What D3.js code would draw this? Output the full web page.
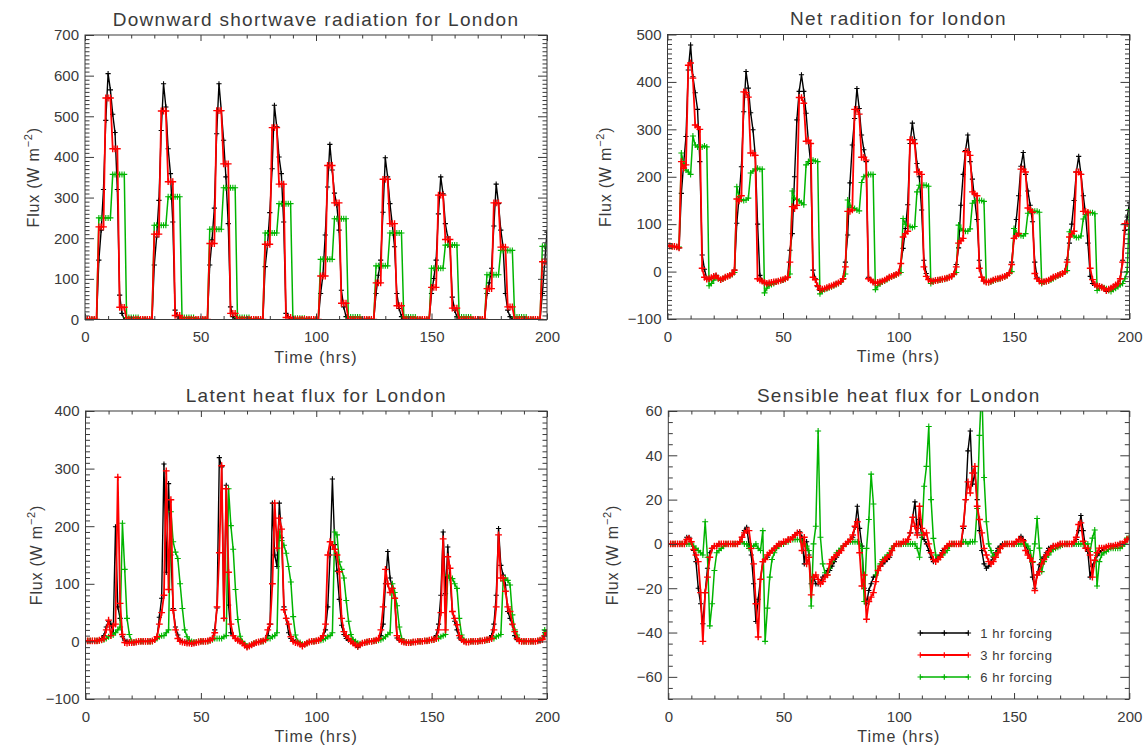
<!DOCTYPE html>
<html><head><meta charset="utf-8">
<script src="https://cdn.jsdelivr.net/npm/d3@7"></script>
<style>
body{margin:0;background:#fff}
svg text{font-family:"Liberation Sans",Arial,sans-serif;fill:#3a3a3a}
</style>
</head><body>
<svg id="c" width="1147" height="749"></svg>
<script>
// ---------- DATA (hourly, hours 0..200) ----------
const seriesNames = ["1 hr forcing","3 hr forcing","6 hr forcing"];
const xTicks = [0,50,100,150,200];

// Downward shortwave radiation
const sw1 = [
0,0,0,0,0,0,146,220,320,490,605,565,505,460,320,60,15,0,0,0,0,0,0,0,
0,0,0,0,0,0,134,203,293,465,580,523,420,359,240,23,7,0,0,0,0,0,0,0,
0,0,0,0,0,0,134,196,274,457,580,514,441,351,236,31,7,0,0,0,0,0,0,0,
0,0,0,0,0,0,130,183,263,371,527,474,400,359,240,15,7,0,0,0,0,0,0,0,
0,0,0,0,0,0,64,109,208,326,431,368,311,282,220,72,31,7,0,0,0,0,0,0,
0,0,0,0,0,0,64,109,146,264,398,351,285,236,179,64,27,7,0,0,0,0,0,0,
0,0,0,0,0,0,64,101,146,260,351,309,236,203,179,55,23,7,0,0,0,0,0,0,
0,0,0,0,0,0,64,90,126,230,333,285,220,179,64,23,7,0,0,0,0,0,0,0,
0,0,0,0,0,0,64,140,215];
const sw3 = [
0,0,0,0,0,0,228,228,228,545,545,545,420,420,420,30,30,30,0,0,0,0,0,0,
0,0,0,0,0,0,210,210,210,513,513,513,339,339,339,10,10,10,0,0,0,0,0,0,
0,0,0,0,0,0,187,187,187,514,514,514,383,383,383,15,15,15,0,0,0,0,0,0,
0,0,0,0,0,0,185,185,185,472,472,472,333,333,333,5,5,5,0,0,0,0,0,0,
0,0,0,0,0,0,107,107,107,379,379,379,287,287,287,40,40,40,0,0,0,0,0,0,
0,0,0,0,0,0,90,90,90,345,345,345,236,236,236,34,34,34,0,0,0,0,0,0,
0,0,0,0,0,0,79,79,79,306,306,306,197,197,197,28,28,28,0,0,0,0,0,0,
0,0,0,0,0,0,76,76,76,287,287,287,178,178,178,31,31,31,0,0,0,0,0,0,
0,0,0,0,0,0,142,142,142];
const sw6 = [
0,0,0,0,0,0,250,250,250,250,250,250,357,357,357,357,357,357,5,5,5,5,5,5,
0,0,0,0,0,0,232,232,232,232,232,232,302,302,302,302,302,302,5,5,5,5,5,5,
0,0,0,0,0,0,222,222,222,222,222,222,324,324,324,324,324,324,5,5,5,5,5,5,
0,0,0,0,0,0,213,213,213,213,213,213,285,285,285,285,285,285,3,3,3,3,3,3,
0,0,0,0,0,0,148,148,148,148,148,148,248,248,248,248,248,248,6,6,6,6,6,6,
0,0,0,0,0,0,132,132,132,132,132,132,213,213,213,213,213,213,6,6,6,6,6,6,
0,0,0,0,0,0,126,126,126,126,126,126,183,183,183,183,183,183,6,6,6,6,6,6,
0,0,0,0,0,0,110,110,110,110,110,110,170,170,170,170,170,170,6,6,6,6,6,6,
0,0,0,0,0,0,180,180,180];

// Net radiation
const nr1 = [
55,54,53,53,52,50,165,228,285,425,478,411,377,342,232,35,5,-15,-16,-14,-10,-8,-14,-18,
-15,-12,-10,-8,-5,3,102,158,221,337,422,387,335,299,245,100,-8,-20,-24,-26,-25,-24,-23,-22,
-20,-19,-18,-15,-12,45,80,200,320,380,415,380,334,274,228,3,-15,-32,-40,-38,-36,-35,-33,-31,
-28,-26,-24,-22,-15,20,77,187,267,323,386,344,288,257,232,-12,-18,-22,-25,-24,-22,-20,-18,-15,
-12,-10,-8,-6,-3,17,49,91,141,270,313,278,228,200,130,24,-4,-15,-20,-20,-18,-18,-17,-16,
-15,-14,-12,-10,-5,15,50,140,205,255,288,232,195,150,110,24,-12,-20,-22,-22,-20,-18,-16,-15,
-14,-12,-10,-8,-3,20,70,110,160,222,251,205,170,140,105,20,-12,-20,-22,-21,-20,-18,-15,-12,
-10,-8,-6,-4,0,25,60,100,150,210,243,205,160,120,60,-10,-25,-28,-30,-30,-32,-35,-42,-38,
-35,-32,-28,-25,-15,24,87,115,145];
const nr3 = [
55,54,53,53,52,50,232,218,225,435,440,408,309,305,300,7,-12,-16,-15,-13,-10,-9,-14,-17,
-15,-12,-10,-8,-5,3,153,149,160,379,378,368,250,250,245,-15,-18,-20,-23,-25,-24,-23,-22,-21,
-20,-18,-17,-15,-12,20,137,133,140,367,367,355,275,277,270,-12,-17,-30,-38,-37,-36,-34,-32,-30,
-28,-26,-24,-21,-15,10,127,127,130,342,342,332,241,241,235,-15,-18,-22,-24,-23,-22,-20,-18,-15,
-12,-10,-8,-6,-3,17,73,80,85,278,278,270,210,210,205,10,-10,-17,-20,-20,-19,-18,-17,-16,
-15,-14,-12,-10,-5,10,60,65,70,253,253,245,168,164,160,7,-12,-20,-22,-22,-20,-18,-16,-15,
-14,-12,-10,-8,-3,15,70,75,80,216,216,210,134,131,125,-4,-15,-20,-22,-21,-20,-18,-15,-12,
-10,-8,-6,-4,0,20,73,80,85,210,210,205,127,127,125,7,-17,-27,-30,-31,-33,-36,-40,-37,
-35,-32,-28,-25,-15,20,101,101,100];
const nr6 = [
55,54,53,53,52,52,250,228,214,210,205,286,267,263,263,263,265,263,-30,-25,-18,-12,-15,-18,
-15,-13,-10,-8,-6,-2,179,158,152,150,151,155,208,212,216,218,216,216,-45,-35,-30,-27,-25,-22,
-20,-19,-18,-16,-13,-5,170,155,152,149,145,141,225,232,235,235,233,232,-47,-42,-38,-36,-34,-32,
-30,-27,-25,-22,-16,-5,151,140,135,133,130,128,188,200,203,205,205,205,-38,-30,-26,-22,-20,-17,
-14,-11,-9,-7,-4,-2,112,100,96,95,93,95,168,182,182,182,182,180,-25,-22,-20,-19,-18,-17,
-16,-14,-12,-10,-6,-2,98,90,87,85,85,90,144,150,150,150,150,148,-22,-23,-22,-20,-18,-16,
-15,-13,-11,-8,-4,0,91,82,78,76,75,80,123,127,127,127,127,125,-25,-22,-21,-20,-18,-15,
-12,-9,-7,-5,-1,2,84,80,75,72,72,75,111,120,124,124,124,122,-40,-35,-33,-34,-36,-40,-42,-38,
-35,-32,-28,-25,-15,0,131,131,130];

// Latent heat flux
const lh1 = [
1,1,1,1,1,1,2,5,10,25,35,30,15,199,60,40,8,2,0,-1,-2,-2,-1,0,
0,0,0,0,0,1,3,7,42,75,308,120,274,150,57,25,11,2,0,-1,-2,-3,-4,-3,
-2,-1,0,0,0,1,2,5,20,58,319,303,40,271,63,15,10,5,2,0,-3,-7,-10,-8,
-6,-4,-2,-1,0,1,3,10,30,240,150,130,240,180,60,40,15,5,2,0,-2,-5,-8,-5,
-3,-1,0,0,1,2,5,10,20,60,150,282,168,122,73,28,12,5,2,0,-3,-7,-10,-6,
-3,-2,-1,0,0,1,2,5,10,30,100,156,110,92,75,6,2,0,-1,-2,-2,-2,-1,-1,
0,0,0,1,1,2,3,5,10,30,80,190,83,164,110,52,35,20,6,2,0,-1,-1,0,
0,0,0,1,1,2,3,5,10,30,80,196,132,115,98,52,40,29,10,3,1,0,0,0,
0,0,0,0,1,2,5,15,12];
const lh3 = [
1,1,1,1,1,1,2,3,5,20,37,10,27,30,285,66,12,-2,-3,-2,-2,-2,-1,0,
0,0,0,0,0,1,3,8,30,50,80,296,90,246,54,20,5,0,-1,-2,-3,-3,-4,-3,
-2,-1,0,0,0,1,2,5,15,60,154,305,40,265,120,30,10,5,2,0,-3,-7,-10,-8,
-6,-4,-2,-1,0,1,3,20,30,100,240,162,214,195,55,40,30,8,0,-2,-3,-5,-8,-5,
-3,-1,0,0,1,2,5,10,30,150,173,167,160,150,121,40,17,10,5,0,-3,-6,-8,-6,
-3,-2,-1,0,0,1,2,5,20,60,125,100,85,92,75,10,3,0,-1,-2,-2,-2,-1,-1,
0,0,0,1,1,2,3,3,5,20,50,178,20,147,127,52,40,29,10,3,0,-1,-1,0,
0,0,0,1,1,2,3,3,5,20,60,185,110,110,87,60,52,30,17,5,1,0,0,0,
0,0,0,0,1,2,3,10,15];
const lh6 = [
1,1,1,1,1,1,1,2,3,5,8,10,11,15,20,25,205,125,40,12,0,-1,-1,0,
0,0,0,0,0,0,3,5,8,10,10,15,20,225,173,155,144,100,57,20,8,2,0,-1,
-1,0,0,0,0,0,2,3,5,5,5,5,8,10,265,201,160,90,38,9,0,-4,-8,-7,
-5,-3,-2,-1,0,0,2,5,5,8,10,15,190,175,167,153,130,103,43,11,0,-2,-5,-5,
-3,-1,0,0,1,1,2,3,5,8,10,15,190,185,138,125,110,71,35,12,3,0,-3,-4,
-3,-2,-1,0,0,1,1,2,3,5,8,12,15,100,85,62,25,5,0,-1,-2,-2,-1,-1,
0,0,0,1,1,1,2,3,5,5,8,10,12,115,110,109,100,92,40,11,3,0,0,0,
0,0,0,1,1,1,2,3,5,5,8,10,12,105,110,106,98,46,20,11,3,0,0,0,
0,0,0,0,1,2,5,20,16];

// Sensible heat flux
const sh1 = [
0,0,0,0,0,0,0,0,3,3,1,-3,-8,-20,-27,-36,-22,-11,-4,-2,-1,-1,0,0,
0,0,0,0,0,0,0,1,3,6,7.5,0,-5,-18,-35,-25,-16,-8,-7,-6,-4,-3,-2,-1,
0,0,1,1,2,2,3,4,5,5.5,3,-9,1,-5,-18,-15,-18,-18,-17,-15,-14,-12,-12,-10,
-8,-6,-4,-3,-1,0,1,2,3,7.5,17,7,-1,-20,-27,-21,-18,-15,-14,-12,-10,-9,-8,-7,
-6,-3,-1,0,0,0,1,1,2,5,12,19,5,11,3,2,0,-3,-6,-8,-7,-6,-5,-3,
-2,-1,0,0,0,0,0,0,7,20,42,51,27,32,20,6,-3,-9,-11,-10,-8,-6,-4,-2,
-1,0,0,0,0,0,0,1,2,3.4,2,-0.5,-3,-6.5,-15,-20,-14,-9.4,-7,-5.8,-4,-2,-1.5,-1,
-1,-0.5,0,0,0,0,0,0,0,2,6,12.8,6,-1.9,-3.4,-15,-10,-7.4,-5.3,-4,-3,-2,-1.5,-1,
-1,-1,-1,-0.5,0,0,1,2,2.5];
const sh3 = [
0,0,0,0,0,0,0,0,2,2.5,1,-2.5,-5,-8,-22,-44,-22,-15,-6,-2,-1,-1,0,0,
0,0,0,0,0,0,0,1,3,5,6,6,-2,-9,-27,-42,-16,-8,-7,-5,-4,-3,-2,-1,
0,0,1,1,2,2,3,4,5,5,-3,3,-9,-6,-23,-15,-14,-16,-18,-17,-15,-14,-9,-7,
-6,-5,-4,-3,-1,0,1,2,4,8,10,-4,-19,-14,-34,-26,-24,-22,-17,-12,-10,-8,-7,-6,
-5,-3,-1,0,0,0,1,1,2,5,12,8,4,17,7,4,5,0,-4,-7,-8,-7,-6,-4,
-2,-1,0,0,0,0,0,0,8,20,28,23,32,35,17,11,5,-2,-5,-8,-9,-8,-6,-4,
-2,-1,0,0,0,0,0,1,2,2,1.4,-3,-5,-6.5,-8,-21,-14,-12.5,-9,-7,-5,-3.4,-2,-1,
-1,-0.5,0,0,0,0,0,0,1,3,8.8,9.5,1.2,-1.9,-2,-5,-15,-7.4,-4,-1.9,-1.9,-1.9,-1.5,-1,
-1,-1,-0.5,-0.5,0,0,1,2,2.5];
const sh6 = [
0,0,0,0,0,0,0,0,0,0,0,-1,-2,-3,-4,-5,10,-6,-37,-27,-12,-4,-3,-2,
-1,0,0,0,0,0,0,1,1,0,0,-2,-1,-1,0,-2,-3,6,-44,-29,-15,-7,-4,-2,
-1,0,0,1,1,2,2,2,2,2,1,0,-1,-3,-28,0,8,51,3,-9,-13,-14,-11,-8,
-6,-4,-3,-2,-1,0,1,1,1,1,1,0,-2,-26,-2,11,31.5,18,-14,-12,-9,-7,-6,-5,
-4,-2,-1,0,0,0,0,0,0,0,0,0,-2,-6,4,26,35,53,20,2.5,-5,-7,-6,-5,
-4,-3,-1,0,0,0,0,0,1,1,0,1,1,1,16,49,72,30,10,0,-3,-5.5,-5,-3.5,
-2,-1,0,0,0,0,0,0,0,0,0,0,-1,-3,-8.4,0,11.5,-1.9,-12.5,-8,-6,-5,-3.5,-2.5,
-2,-1.5,-1,-0.5,0,0,0,0,0,0,0,0,0,0,0,-3.4,2.6,6.3,-19,-8,-5,-4,-3.4,-2.5,
-2,-1.9,-1.9,-1.9,-1.9,-1,0,2.6,3];

// ---------- LAYOUT ----------
const TXT = "#3a3a3a";
const colors = ["#000000", "#ff0000", "#00b400"];
const lineW = [1.4, 1.8, 1.5];
const mark = [2.6, 3.4, 3.0];
const drawOrder = [0, 2, 1];

const panels = [
  {title:"Downward shortwave radiation for London", left:85, top:35, w:462, h:284.5,
   dom:[0,700], major:100, minor:10, data:[sw1,sw3,sw6], yt:-46},
  {title:"Net radition for london", left:667.5, top:34.5, w:462, h:284.5,
   dom:[-100,500], major:100, minor:10, data:[nr1,nr3,nr6], yt:-57},
  {title:"Latent heat flux for London", left:85.5, top:411, w:461.5, h:288,
   dom:[-100,400], major:100, minor:10, data:[lh1,lh3,lh6], yt:-44},
  {title:"Sensible heat flux for London", left:668.3, top:411, w:461, h:288,
   dom:[-70,60], major:20, minor:5, data:[sh1,sh3,sh6], yt:-50, legend:true}
];

const svg = d3.select("#c");
const defs = svg.append("defs");
const fmt = d3.format("d");

function plusPath(pts, s){
  return pts.map(([px,py]) => `M${px-s},${py}H${px+s}M${px},${py-s}V${py+s}`).join("");
}

panels.forEach((p, pi) => {
  const g = svg.append("g");
  const x = d3.scaleLinear().domain([0,200]).range([p.left, p.left + p.w]);
  const y = d3.scaleLinear().domain(p.dom).range([p.top + p.h, p.top]);

  defs.append("clipPath").attr("id","cp"+pi).append("rect")
    .attr("x", p.left).attr("y", p.top).attr("width", p.w).attr("height", p.h);

  const plot = g.append("g").attr("clip-path", `url(#cp${pi})`);
  drawOrder.forEach(si => {
    const vals = p.data[si];
    const line = d3.line().x((d,i) => x(i)).y(d => y(d));
    plot.append("path").attr("d", line(vals)).attr("fill","none")
      .attr("stroke", colors[si]).attr("stroke-width", lineW[si]).attr("stroke-linejoin","round");
    const pts = vals.map((v,i) => [x(i), y(v)]);
    plot.append("path").attr("d", plusPath(pts, mark[si])).attr("fill","none")
      .attr("stroke", colors[si]).attr("stroke-width", si === 1 ? 1.4 : 1.1);
  });

  // frame
  g.append("rect").attr("x", p.left).attr("y", p.top).attr("width", p.w).attr("height", p.h)
    .attr("fill","none").attr("stroke", TXT).attr("stroke-width", 1);

  // ticks
  const yMaj = d3.range(Math.ceil(p.dom[0]/p.major)*p.major, p.dom[1] + 1e-6, p.major);
  const yMin = d3.range(p.dom[0], p.dom[1] + 1e-6, p.minor).filter(v => Math.abs(v % p.major) > 1e-6);
  const xMaj = xTicks;
  const xMin = d3.range(0, 201, 10).filter(v => v % 50 !== 0);

  function styleAxis(sel){
    sel.select(".domain").remove();
    sel.selectAll("line").attr("stroke", TXT).attr("stroke-width", 1);
    sel.attr("font-family", null).attr("font-size", null);
  }
  const B = p.top + p.h, R = p.left + p.w;
  g.append("g").attr("transform",`translate(0,${B})`)
    .call(d3.axisBottom(x).tickValues(xMaj).tickSize(-6).tickPadding(12.3).tickFormat(fmt))
    .call(styleAxis).selectAll("text").attr("font-size", 15).attr("fill", TXT);
  g.append("g").attr("transform",`translate(0,${B})`)
    .call(d3.axisBottom(x).tickValues(xMin).tickSize(-3.5).tickFormat("")).call(styleAxis);
  g.append("g").attr("transform",`translate(0,${p.top})`)
    .call(d3.axisTop(x).tickValues(xMaj).tickSize(-6).tickFormat("")).call(styleAxis);
  g.append("g").attr("transform",`translate(0,${p.top})`)
    .call(d3.axisTop(x).tickValues(xMin).tickSize(-3.5).tickFormat("")).call(styleAxis);
  g.append("g").attr("transform",`translate(${p.left},0)`)
    .call(d3.axisLeft(y).tickValues(yMaj).tickSize(-9).tickPadding(6).tickFormat(fmt))
    .call(styleAxis).selectAll("text").attr("font-size", 15).attr("fill", TXT);
  g.append("g").attr("transform",`translate(${p.left},0)`)
    .call(d3.axisLeft(y).tickValues(yMin).tickSize(-4.5).tickFormat("")).call(styleAxis);
  g.append("g").attr("transform",`translate(${R},0)`)
    .call(d3.axisRight(y).tickValues(yMaj).tickSize(-9).tickFormat("")).call(styleAxis);
  g.append("g").attr("transform",`translate(${R},0)`)
    .call(d3.axisRight(y).tickValues(yMin).tickSize(-4.5).tickFormat("")).call(styleAxis);

  // title
  g.append("text").attr("x", p.left + p.w/2).attr("y", p.top - 9.5)
    .attr("text-anchor","middle").attr("font-size", 19).attr("letter-spacing", 1.3)
    .text(p.title);
  // x title
  g.append("text").attr("x", p.left + p.w/2).attr("y", B + 43)
    .attr("text-anchor","middle").attr("font-size", 16).attr("letter-spacing", 1.1)
    .text("Time (hrs)");
  // y title
  const yt = g.append("text")
    .attr("transform", `translate(${p.left + p.yt},${p.top + p.h/2}) rotate(-90)`)
    .attr("text-anchor","middle").attr("font-size", 16).attr("letter-spacing", 0.8);
  yt.append("tspan").text("Flux (W m");
  yt.append("tspan").attr("font-size", 11).attr("dy", -7).text("\u22122");
  yt.append("tspan").attr("dy", 7).text(")");

  if (p.legend) {
    const lg = g.append("g");
    seriesNames.forEach((name, si) => {
      const ly = p.top + 222 + si*22;
      const x0 = p.left + 252, x1 = p.left + 300;
      lg.append("line").attr("x1", x0).attr("x2", x1).attr("y1", ly).attr("y2", ly)
        .attr("stroke", colors[si]).attr("stroke-width", lineW[si]);
      lg.append("path").attr("d", plusPath([[x0,ly],[(x0+x1)/2,ly],[x1,ly]], 2.8))
        .attr("stroke", colors[si]).attr("stroke-width", 1.2).attr("fill","none");
      lg.append("text").attr("x", p.left + 312).attr("y", ly + 4.5)
        .attr("font-size", 13).attr("letter-spacing", 0.6).text(name);
    });
  }
});
</script>
</body></html>
